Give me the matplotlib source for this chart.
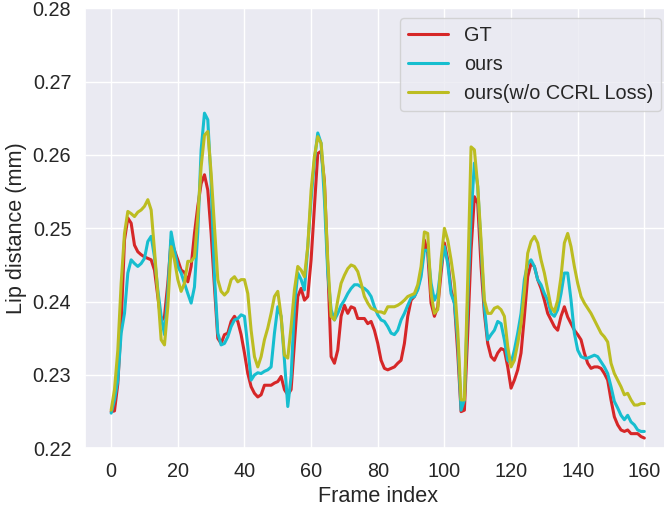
import matplotlib
matplotlib.use('Agg')
import matplotlib.pyplot as plt
import seaborn as sns

# Lip distance per frame
frames = list(range(161))

gt = [0.2250, 0.2251, 0.2288, 0.2370, 0.2484, 0.2514, 0.2507, 0.2477, 0.2468, 0.2464,
      0.2461, 0.2459, 0.2457, 0.2443, 0.2407, 0.2373, 0.2380, 0.2425, 0.2484, 0.2470,
      0.2457, 0.2443, 0.2440, 0.2427, 0.2448, 0.2493, 0.2530, 0.2561, 0.2573, 0.2552,
      0.2493, 0.2420, 0.2350, 0.2343, 0.2355, 0.2357, 0.2373, 0.2380, 0.2373, 0.2355,
      0.2330, 0.2302, 0.2284, 0.2275, 0.2270, 0.2273, 0.2286, 0.2286, 0.2286, 0.2289,
      0.2291, 0.2298, 0.2280, 0.2273, 0.2280, 0.2343, 0.2407, 0.2418, 0.2402, 0.2407,
      0.2457, 0.2530, 0.2602, 0.2605, 0.2564, 0.2448, 0.2325, 0.2316, 0.2334, 0.2380,
      0.2395, 0.2384, 0.2393, 0.2391, 0.2377, 0.2377, 0.2377, 0.2370, 0.2373, 0.2361,
      0.2343, 0.2320, 0.2309, 0.2307, 0.2309, 0.2311, 0.2316, 0.2320, 0.2343, 0.2380,
      0.2402, 0.2407, 0.2418, 0.2439, 0.2484, 0.2466, 0.2398, 0.2380, 0.2393, 0.2439,
      0.2480, 0.2457, 0.2416, 0.2398, 0.2330, 0.2250, 0.2252, 0.2357, 0.2470, 0.2543,
      0.2534, 0.2448, 0.2384, 0.2343, 0.2325, 0.2320, 0.2330, 0.2336, 0.2334, 0.2311,
      0.2282, 0.2293, 0.2307, 0.2330, 0.2380, 0.2434, 0.2452, 0.2448, 0.2430, 0.2418,
      0.2402, 0.2384, 0.2375, 0.2366, 0.2361, 0.2380, 0.2393, 0.2379, 0.2370, 0.2361,
      0.2355, 0.2348, 0.2330, 0.2316, 0.2309, 0.2311, 0.2311, 0.2309, 0.2302, 0.2293,
      0.2266, 0.2243, 0.2232, 0.2225, 0.2223, 0.2225, 0.2220, 0.2220, 0.2220, 0.2216,
      0.2214]

ours = [0.2248, 0.2266, 0.2293, 0.2357, 0.2384, 0.2439, 0.2457, 0.2452, 0.2448, 0.2452,
        0.2459, 0.2482, 0.2489, 0.2461, 0.2416, 0.2380, 0.2355, 0.2411, 0.2495, 0.2470,
        0.2448, 0.2439, 0.2425, 0.2411, 0.2398, 0.2420, 0.2495, 0.2607, 0.2657, 0.2648,
        0.2561, 0.2434, 0.2357, 0.2341, 0.2343, 0.2352, 0.2366, 0.2375, 0.2377, 0.2382,
        0.2380, 0.2339, 0.2293, 0.2300, 0.2303, 0.2302, 0.2305, 0.2307, 0.2311, 0.2357,
        0.2393, 0.2380, 0.2320, 0.2257, 0.2298, 0.2393, 0.2439, 0.2430, 0.2416, 0.2475,
        0.2539, 0.2593, 0.2630, 0.2616, 0.2539, 0.2439, 0.2389, 0.2375, 0.2384, 0.2395,
        0.2402, 0.2411, 0.2418, 0.2423, 0.2423, 0.2420, 0.2418, 0.2414, 0.2407, 0.2393,
        0.2382, 0.2375, 0.2373, 0.2366, 0.2357, 0.2355, 0.2361, 0.2375, 0.2384, 0.2395,
        0.2405, 0.2407, 0.2416, 0.2434, 0.2470, 0.2470, 0.2425, 0.2402, 0.2411, 0.2448,
        0.2475, 0.2452, 0.2411, 0.2398, 0.2348, 0.2252, 0.2266, 0.2402, 0.2516, 0.2589,
        0.2557, 0.2475, 0.2393, 0.2348, 0.2355, 0.2361, 0.2373, 0.2370, 0.2348, 0.2320,
        0.2316, 0.2334, 0.2357, 0.2384, 0.2430, 0.2452, 0.2457, 0.2448, 0.2430, 0.2423,
        0.2411, 0.2402, 0.2384, 0.2380, 0.2389, 0.2411, 0.2439, 0.2439, 0.2402, 0.2357,
        0.2334, 0.2325, 0.2323, 0.2323, 0.2325, 0.2327, 0.2325, 0.2318, 0.2311, 0.2302,
        0.2284, 0.2264, 0.2255, 0.2245, 0.2239, 0.2245, 0.2236, 0.2232, 0.2225, 0.2223,
        0.2223]

ours_wo_ccrl = [0.2252, 0.2280, 0.2334, 0.2425, 0.2493, 0.2523, 0.2520, 0.2516, 0.2522, 0.2525,
                0.2530, 0.2539, 0.2525, 0.2470, 0.2411, 0.2348, 0.2341, 0.2393, 0.2475, 0.2457,
                0.2430, 0.2414, 0.2425, 0.2455, 0.2455, 0.2461, 0.2516, 0.2584, 0.2627, 0.2632,
                0.2575, 0.2502, 0.2430, 0.2414, 0.2409, 0.2414, 0.2430, 0.2434, 0.2427, 0.2430,
                0.2430, 0.2411, 0.2361, 0.2325, 0.2311, 0.2325, 0.2348, 0.2364, 0.2384, 0.2407,
                0.2414, 0.2380, 0.2327, 0.2323, 0.2366, 0.2416, 0.2448, 0.2443, 0.2434, 0.2475,
                0.2552, 0.2598, 0.2625, 0.2616, 0.2561, 0.2457, 0.2380, 0.2375, 0.2402, 0.2425,
                0.2436, 0.2445, 0.2450, 0.2448, 0.2441, 0.2425, 0.2407, 0.2398, 0.2391, 0.2389,
                0.2386, 0.2386, 0.2384, 0.2393, 0.2393, 0.2393, 0.2395, 0.2398, 0.2402, 0.2407,
                0.2409, 0.2411, 0.2423, 0.2448, 0.2495, 0.2493, 0.2411, 0.2384, 0.2389, 0.2457,
                0.2500, 0.2484, 0.2457, 0.2425, 0.2361, 0.2266, 0.2266, 0.2430, 0.2611, 0.2607,
                0.2557, 0.2484, 0.2402, 0.2384, 0.2384, 0.2391, 0.2393, 0.2389, 0.2380, 0.2339,
                0.2311, 0.2320, 0.2343, 0.2370, 0.2414, 0.2466, 0.2482, 0.2489, 0.2480, 0.2457,
                0.2439, 0.2416, 0.2393, 0.2386, 0.2402, 0.2434, 0.2480, 0.2493, 0.2475, 0.2448,
                0.2425, 0.2407, 0.2398, 0.2391, 0.2384, 0.2375, 0.2366, 0.2357, 0.2352, 0.2345,
                0.2316, 0.2302, 0.2293, 0.2284, 0.2273, 0.2275, 0.2266, 0.2259, 0.2259, 0.2261,
                0.2261]

sns.set_theme(style='darkgrid', font_scale=1.3)
plt.rcParams['font.family'] = ['Liberation Sans', 'DejaVu Sans']

fig = plt.figure(figsize=(6.64, 5.08), dpi=100)
# axes run slightly past the right edge, like the cropped original
ax = fig.add_axes([84.5 / 664, 0.1175, (671 - 84.5) / 664, 0.8662])

ax.plot(frames, gt, color='tab:red', lw=2.2, label='GT')
ax.plot(frames, ours, color='tab:cyan', lw=2.2, label='ours')
ax.plot(frames, ours_wo_ccrl, color='tab:olive', lw=2.2, label='ours(w/o CCRL Loss)')

ax.set_xlim(-8, 168)
ax.set_ylim(0.22, 0.28)
ax.set_xticks(range(0, 161, 20))
ax.set_yticks([0.22, 0.23, 0.24, 0.25, 0.26, 0.27, 0.28])
ax.set_xlabel('Frame index')
ax.set_ylabel('Lip distance (mm)')
ax.legend(loc='upper right')

fig.savefig('out.png', dpi=100)
